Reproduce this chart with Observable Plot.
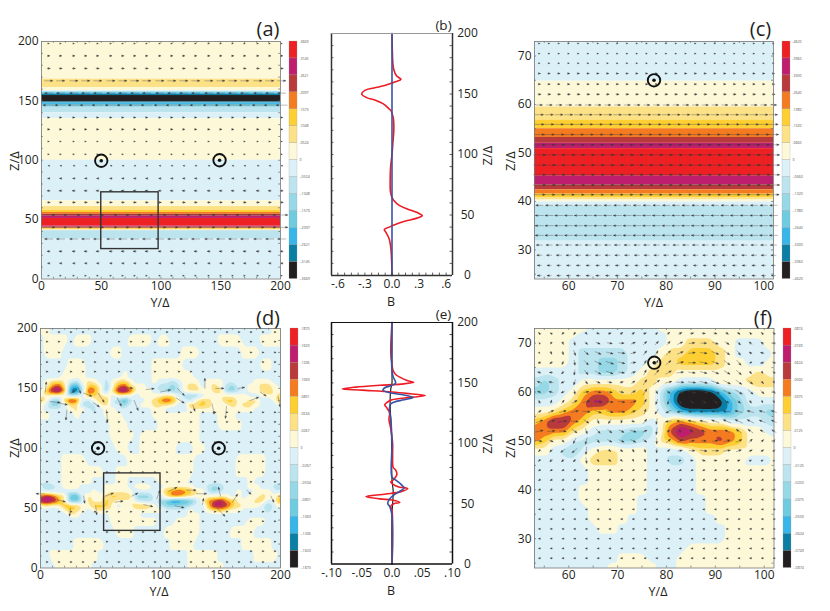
<!DOCTYPE html>
<html><head><meta charset="utf-8">
<style>html,body{margin:0;padding:0;background:#fff}#page{position:relative;width:830px;height:611px;overflow:hidden;font-family:"Open Sans",sans-serif}#page svg{position:absolute;overflow:visible;background:transparent}</style>
<script src="https://cdn.jsdelivr.net/npm/d3@7"></script>
<script src="https://cdn.jsdelivr.net/npm/@observablehq/plot@0.6"></script>
</head><body><div id="page"></div>
<script>
// ---------- colour levels ----------
const levelBreaks=[-6.5,-5.5,-4.5,-3.5,-2.5,-1.5,0,1.5,2.5,3.5,4.5,5.5,6.5];
const palette=["#231f20","#0a7fa3","#38b6ea","#6fcbe0","#97d8e6","#bce4ee","#dcf0f7","#fdf9d8","#fde187","#fdcf33","#f47b20","#b93a3a","#be1e6d","#ed2024"];
const levelIds=[7,6,5,4,3,2,1,-1,-2,-3,-4,-5,-6,-7];
const barTicksA=[".3669",".3145",".2621",".2097",".1573",".1048",".0524","0","-.0524","-.1048","-.1573","-.2097","-.2621","-.3145","-.3669"];
const barTicksC=[".4620",".3960",".3300",".2640",".1980",".1320",".0660","0","-.0660","-.1320","-.1980","-.2640","-.3300","-.3960","-.4620"];
const barTicksD=[".1870",".1603",".1336",".1069",".0801",".0534",".0267","0","-.0267","-.0534","-.0801","-.1069","-.1336","-.1603","-.1870"];
const barTicksF=[".0874",".0749",".0624",".0500",".0375",".0250",".0125","0","-.0125","-.0250","-.0375","-.0500","-.0624","-.0749","-.0874"];

// ---------- panel (a) bands and arrows ----------
const bandTopsA=[200,168.3,161,158.5,157.5,156.5,155.5,154.5,149,148.2,147,145.5,144.5,140,135,100,66,61,58,56,54.5,53,51,44.5,43.7,43,42.3,41.7,41.1,40.7,33.6,0];
const bandLevelsA=[1,2,1,-1,-4,-5,-6,-7,-6,-5,-4,-3,-2,-1,1,-1,1,2,3,4,5,6,7,6,5,4,3,2,1,-2,-1];
const arrowColsA=[6,16,27,37,47,58,68,78,88,99,109,119,129,140,150,160,170,181,191,201];
const arrowRowsA=[2.8,13.2,23.3,33.7,43.5,53.9,64.5,74.3,84.7,95.4,105,115.8,126,136,146.4,156.5,166.9,177.3,187.9,198.3];
const arrowUA=[1,-2,-3,-8,12,12,3,-3,-2,-1,1,1,2,2,-11,-8,8,3,2,1];

// ---------- panel (c) ----------
const bandTopsC=[73,64.8,59.5,56.8,55,53.2,52,50.9,45.2,43.4,42.4,41.5,40.8,40.3,39.9,39.1,31.8,24];
const bandLevelsC=[-1,1,2,3,4,5,6,7,6,5,4,3,2,1,-1,-2,-1];
const arrowColsC=[54,56,58,60,62,64,66,68,70,72,74,76,78,80,82,84,86,88,90,92,94,96,98,100,102];
const arrowRowsC=[72.6,70.5,68.5,66.4,64.2,62.1,59.9,57.9,55.9,53.8,51.7,49.6,47.5,45.5,43.4,41.4,39.2,37.1,35,33,31,28.9,26.8,24.7];
const arrowUC=[1,1,1,2,2,3,6,8,9,10,11,12,12,12,12,11,-7,-8,-8,-8,-6,-5,-4,-4];

// ---------- panel (b) profile ----------
const profileZB=[200,175,170,165,162,160,159,157,155,153,150,147,145,142,139,136,134,130,120,110,100,90,80,70,65,62,58,55,52,49.5,47,45,42,40,38,36,30,20,0];
const profileRedB=[0,.01,.02,.05,.1,.03,0,-.08,-.2,-.3,-.335,-.28,-.19,-.1,-.05,-.01,0,.015,.02,.01,0,-.015,-.02,-.018,-.003,.02,.08,.17,.28,.335,.26,.15,.03,-.03,-.085,-.07,-.03,-.01,0];
const profileBlueB=[0,0];
const profileBlueZB=[0,200];

// ---------- panel (e) profiles ----------
const profileZRedE=[200,175,165,160,157,155,152,150.5,149,148,146.5,145,144,142.5,141,139.5,138,136,134,132,129,125,120,112,100,90,80,78,74,70,68,66,64,62.5,60,58,56,54,53,51,50,48,45,30,15,0];
const profileRedE=[0,-.002,0,.002,.006,.012,.025,.036,.015,-.02,-.06,-.082,-.05,0,.03,.055,.03,0,-.008,-.012,-.008,-.004,-.005,-.002,.001,.001,.002,.006,.008,.003,-.002,.002,.01,.026,.015,-.01,-.043,-.02,0,.013,.003,-.002,0,.001,.001,0];
const profileZBlueE=[200,160,155,150,148,146,144,142,140,138,136,134,132,127,120,100,72,70,66,63,60,58,54,50,48,45,40,0];
const profileBlueE=[0,0,.002,.006,0,-.012,-.015,-.005,.02,.035,.02,.003,-.003,-.004,-.002,0,0,.005,.015,.02,.012,.005,-.004,-.007,-.004,-.002,0,0];
const profileZBlackE=[200,155,150,145,138,130,110,70,60,50,40,0];
const profileBlackE=[0,0,0,-.002,-.003,-.003,-.001,0,.002,.001,0,0];

// ---------- panel (d) field ----------
const fieldColsD=[0,5,10,15,20,25,30,35,40,45,50,55,60,65,70,75,80,85,90,95,100,105,110,115,120,125,130,135,140,145,150,155,160,165,170,175,180,185,190,195,200];
const fieldRowsD=[200,190,180,170,160,156,152,148,144,140,136,132,128,120,110,100,90,80,72,68,64,60,56,52,48,44,40,30,20,10,0];
const fieldD=[
[1,1,-1,-1,-1,-1,-1,-1,-1,-1,-1,-1,-1,-1,-1,-1,-1,-1,-1,-1,-1,-1,-1,-1,-1,-1,-1,-1,-1,-1,-1,-1,-1,-1,-1,-1,-1,-1,-1,1,1],
[-1,1,1,1,1,-1,1,1,1,-1,-1,-1,-1,-1,-1,1,1,1,1,-1,1,1,-1,-1,-1,-1,-1,-1,-1,-1,1,1,1,1,-1,-1,-1,1,1,1,1],
[-1,1,1,1,-1,-1,-1,-1,-1,-1,-1,-1,1,1,-1,-1,-1,-1,-1,-1,-1,-1,-1,-1,1,1,1,-1,-1,-1,-1,-1,-1,-1,1,1,1,-1,-1,-1,-1],
[-1,-1,-1,-1,-1,1,1,1,-1,-1,-1,-1,-1,-1,-1,-1,-1,-1,-1,1,1,1,1,1,-1,-1,-1,-1,-1,-1,-1,-1,-1,-1,-1,-1,-1,1,1,-1,-1],
[-1,-1,-1,-1,1,1,1,1,-1,-1,-1,-1,-1,-1,1,-1,-1,-1,-1,1,1,1,1,1,1,1,-1,-1,-1,-1,-1,-1,-1,-1,-1,-1,-1,-1,-1,-1,-1],
[-1,1,2,2,1,-1,-2,1,2,1,-1,-2,1,2,2,1,-1,-1,-1,1,-1,-1,-2,-1,1,1,1,-1,1,1,1,-1,-1,-1,-1,-1,1,1,1,-1,-1],
[-1,1,4,5,2,-4,-5,-1,3,3,1,-3,1,4,5,2,1,1,-1,-1,-2,-2,-3,-2,1,2,2,-1,1,2,1,-2,-3,-1,-1,1,1,2,2,1,-1],
[-1,3,6,7,4,-6,-7,-2,5,4,1,-3,2,6,7,5,1,1,1,-1,-2,-3,-3,-2,1,2,2,1,1,2,2,-3,-3,-2,-1,1,1,2,3,1,1],
[1,1,1,1,1,-2,-2,-1,3,3,2,1,-1,1,1,1,-1,1,1,1,1,2,2,-1,-2,-3,-3,-1,1,1,1,1,1,1,1,-1,-1,1,1,1,2],
[3,1,-3,-3,3,6,5,-1,-2,1,3,3,-1,-3,-5,-2,-1,-1,1,2,4,5,4,1,-1,-2,1,3,2,1,1,3,3,1,1,2,2,-1,-2,1,3],
[1,-1,-3,-3,-1,2,2,-2,-3,-2,1,2,-1,-1,-3,-1,-1,1,1,2,2,2,1,-1,-1,3,3,3,2,1,1,1,2,1,2,2,1,-1,-1,-1,1],
[1,-1,-1,-1,-1,1,2,1,-1,-2,-1,1,1,-1,-1,-1,-1,-1,-1,1,1,-1,-2,-1,-1,1,1,1,1,1,1,1,1,1,1,1,-1,-1,-1,-1,-1],
[1,1,-1,-1,-1,-1,1,-1,-1,-1,-1,1,1,1,-1,-1,-1,-1,-1,1,1,1,1,1,1,1,1,-1,-1,-1,1,1,1,-1,-1,-1,-1,-1,-1,-1,-1],
[-1,-1,-1,-1,-1,-1,-1,-1,-1,-1,-1,-1,1,1,1,-1,-1,-1,-1,-1,1,1,1,1,1,1,1,-1,-1,-1,1,1,1,1,-1,-1,-1,-1,-1,-1,-1],
[-1,-1,-1,-1,-1,-1,-1,-1,-1,-1,-1,-1,1,1,1,1,-1,1,1,1,1,1,1,1,1,1,1,-1,-1,-1,-1,-1,-1,-1,-1,-1,-1,-1,-1,-1,-1],
[-1,-1,-1,-1,-1,-1,-1,-1,-1,-1,-1,-1,-1,1,1,-1,-1,1,1,1,1,1,1,-1,-1,-1,1,1,-1,-1,-1,-1,-1,-1,-1,-1,-1,-1,-1,-1,-1],
[-1,-1,-1,-1,1,1,1,1,-1,-1,-1,-1,-1,-1,-1,1,1,1,1,1,1,1,1,1,1,1,-1,-1,-1,-1,-1,-1,-1,1,1,1,1,1,-1,-1,-1],
[-1,-1,-1,-1,1,1,1,1,1,1,1,-1,-1,1,1,1,1,1,1,1,1,1,1,1,1,1,-1,-1,-1,-1,-1,-1,-1,1,1,1,1,1,-1,-1,-1],
[-1,-1,-1,-1,1,1,1,1,1,-1,-1,-1,-1,1,1,-1,-1,-1,-1,-1,1,1,1,1,1,-1,-1,-1,-1,-1,-1,-1,-1,-1,-1,1,-1,-1,-1,-1,-1],
[-1,-3,-2,-1,1,1,1,-1,-1,-1,-1,1,1,1,1,-1,1,2,1,-1,-1,1,1,1,1,1,-1,-1,-2,-3,-2,-1,-1,-1,-1,1,1,-1,-1,-2,-3],
[-1,-1,-1,-1,-1,-1,-1,-1,-1,1,-1,1,1,1,1,1,-1,-1,-1,-1,1,3,4,5,4,3,2,1,-2,-3,-2,-1,-1,1,-1,-1,1,1,1,-1,-1],
[4,6,5,3,2,-4,-5,-1,2,1,1,2,3,3,3,2,-3,-3,-3,-1,-1,2,4,4,3,2,1,1,1,1,1,1,-1,1,-1,1,1,2,1,1,3],
[6,7,6,4,1,-4,-4,-1,2,1,1,3,2,1,1,1,-1,-2,-2,-1,-3,-4,-6,-6,-5,-4,-2,1,4,5,6,4,3,1,1,1,2,2,-1,1,4],
[1,2,1,1,3,3,3,1,1,3,3,3,1,-1,1,1,3,3,2,1,-2,-3,-3,-3,-3,-2,-1,-1,3,6,6,5,3,2,1,1,1,-1,-3,-1,1],
[-1,-1,-2,-1,1,3,2,1,-1,1,2,1,1,1,1,1,1,1,1,1,1,-1,-1,-1,-1,1,-1,-1,1,2,3,2,1,1,-1,-1,-1,-1,-2,-1,-1],
[-1,-1,-1,-1,-1,1,1,-1,-1,-1,-1,-1,1,1,1,1,1,-1,-1,-1,-1,-1,-1,-1,-1,1,1,-1,-1,-1,-1,-1,-1,-1,-1,-1,-1,-1,-1,-1,-1],
[-1,-1,-1,-1,-1,-1,-1,-1,-1,-1,-1,-1,1,1,1,1,1,1,1,1,-1,-1,-1,1,1,1,1,-1,-1,-1,-1,-1,-1,-1,-1,1,1,1,-1,-1,-1],
[-1,-1,-1,-1,-1,-1,-1,-1,-1,-1,-1,-1,-1,1,1,1,-1,-1,-1,-1,-1,1,1,1,1,1,1,-1,-1,-1,-1,-1,1,1,1,1,-1,-1,-1,-1,-1],
[-1,-1,-1,-1,-1,-1,1,1,1,1,1,-1,-1,-1,-1,-1,-1,-1,-1,-1,-1,-1,1,1,1,1,-1,-1,-1,-1,-1,-1,-1,-1,1,1,1,1,1,-1,-1],
[-1,-1,1,1,1,1,1,1,1,1,-1,-1,-1,-1,-1,-1,-1,-1,-1,-1,-1,-1,-1,-1,-1,1,1,1,1,1,-1,-1,-1,-1,-1,-1,1,1,1,1,-1],
[-1,-1,-1,1,1,1,1,1,1,-1,-1,-1,-1,-1,-1,-1,-1,-1,-1,-1,-1,-1,-1,-1,-1,1,1,1,1,1,1,-1,-1,-1,-1,-1,-1,-1,-1,-1,-1]
];
// arrows of (d): Y, Z, u, v
const tinyColsD=[5,15,25,35,45,55,65,75,85,95,105,115,125,135,145,155,165,175,185,195];
const tinyRowsD=[5,14,22,30,39,47,72,80,89,97,105,114,122,130,164,172,180,189,197];
const arrowsD=[[4,147,1,10],[8,139,10,-1],[14,138,10,-2],[22,132,-1,-10],[25,146,4,2],[31,151,3,-6],[36,146,8,-3],[44,138,6,-4],[48,146,6,-9],[55,132,1,-12],[64,142,4,-8],[70,151,8,-1],[78,140,4,-10],[88,149,8,1],[100,147,10,2],[113,142,8,-5],[114,150,7,-7],[127,136,2,-6],[137,150,0,10],[143,137,2,-10],[146,150,8,0],[155,135,-1,-12],[165,150,6,1],[175,140,8,3],[183,147,6,-4],[198,143,2,-10],[3,62,-8,0],[14,57,8,-2],[25,50,-1,-8],[36,60,1,-7],[46,52,1,-9],[54,60,8,3],[62,55,8,1],[76,60,6,3],[86,53,9,-2],[97,58,3,8],[107,64,8,4],[112,52,9,-2],[122,65,9,0],[130,62,10,0],[135,53,1,6],[147,50,8,-8],[150,60,-2,9],[160,55,5,8],[172,65,4,-4],[192,60,3,-6]];

// ---------- panel (f) field ----------
const fieldColsF=[53,55,57,59,61,63,65,67,69,71,73,75,77,79,81,83,85,87,89,91,93,95,97,99,101,102];
const fieldRowsF=[73,72,70,68,66,64,62,60,58,56,54,52,50,48,46,44,42,40,38,36,34,32,30,28,26,24];
const fieldF=[
[1,1,1,1,1,1,-1,-1,-1,-1,-1,-1,-1,1,1,1,1,1,1,1,1,1,1,1,1,1],
[1,1,1,1,1,-1,-1,-1,-1,-1,-1,-1,-1,-1,1,1,1,1,1,1,1,1,1,1,1,1],
[1,1,1,1,-1,-1,-1,-1,-1,-1,-1,-1,-1,-1,1,1,2,2,2,1,1,-1,-1,-1,1,1],
[1,1,1,1,-1,-2,-2,-2,-2,-2,-1,-1,-1,1,2,2,3,3,3,2,1,-1,-1,-1,-1,1],
[1,1,1,1,-1,-2,-2,-3,-3,-2,-1,-1,1,2,2,3,3,3,3,2,1,1,-1,-1,1,1],
[-1,-1,-1,-1,-1,-2,-2,-3,-3,-2,-1,1,2,2,2,1,1,1,1,1,1,1,1,2,1,1],
[-2,-3,-2,-1,-1,1,1,1,1,1,1,2,2,1,1,-1,-1,-1,-1,1,1,1,2,2,2,2],
[-3,-3,-2,-1,1,3,4,4,3,2,2,3,1,-2,-5,-7,-8,-8,-7,-5,-3,-2,-1,1,1,1],
[-1,-1,-1,1,2,4,6,6,4,4,4,3,1,-2,-5,-8,-8,-8,-8,-7,-5,-3,-1,-1,-1,-1],
[1,1,2,3,4,4,3,3,4,4,3,2,1,-1,-3,-5,-6,-6,-6,-6,-5,-3,-2,-2,-3,-3],
[3,4,6,6,4,3,1,1,1,1,1,1,-1,1,3,4,3,2,1,1,-1,-1,-1,-1,-2,-2],
[4,4,4,4,2,1,-1,-2,-2,-2,-3,-3,-2,1,5,7,6,5,4,4,4,3,1,1,-1,-1],
[4,3,1,1,-1,-2,-2,-2,-2,-3,-3,-2,-1,2,3,5,4,4,4,5,4,3,1,1,1,1],
[1,1,-1,-2,-3,-1,1,2,2,1,1,1,-1,-1,-1,-1,1,2,2,2,1,1,1,1,1,1],
[-1,-1,-1,-1,-1,1,2,2,2,1,1,1,-1,-1,-2,-2,-1,1,1,1,1,1,-1,-1,-1,1],
[-1,-1,-1,-1,-1,-1,1,1,1,1,1,1,-1,-1,-1,-1,-1,1,1,1,1,1,1,1,1,1],
[-1,-1,-1,-1,-1,-1,1,1,1,1,1,1,-1,-1,-1,-1,-1,1,1,1,1,1,1,1,1,1],
[-1,-1,-1,-1,-1,1,1,1,1,1,1,1,-1,-1,-1,-1,-1,1,1,1,1,1,1,1,1,1],
[-1,-1,-1,-1,-1,1,1,1,1,1,1,-1,-1,-1,-1,-1,-1,-1,1,1,1,1,1,1,1,1],
[-1,-1,-1,-1,-1,-1,1,1,1,1,1,-1,-1,-1,-1,-1,-1,-1,1,1,1,1,1,1,1,1],
[-1,-1,-1,-1,-1,-1,1,1,1,1,-1,-1,-1,-1,-1,-1,-1,-1,-1,1,1,1,1,1,1,1],
[-1,-1,-1,-1,-1,-1,-1,1,1,-1,-1,-1,-1,-1,-1,-1,-1,-1,-1,-1,1,1,1,1,1,1],
[-1,-1,-1,-1,-1,-1,-1,-1,-1,-1,-1,-1,-1,-1,-1,-1,-1,-1,-1,-1,1,1,1,1,1,1],
[-1,-1,-1,-1,-1,-1,-1,-1,-1,-1,-1,-1,-1,-1,-1,-1,1,1,1,1,1,1,1,1,1,1],
[-1,-1,-1,-1,-1,-1,-1,-1,-1,1,1,1,-1,-1,-1,1,1,1,1,1,1,1,1,1,1,1],
[-1,-1,-1,-1,-1,-1,-1,-1,1,1,1,1,1,-1,-1,1,1,1,1,1,1,1,1,1,1,1]
];
const arrowColsF=[54,56.4,58.8,61.2,63.6,66,68.4,70.8,73.2,75.6,78,80.4,82.8,85.2,87.6,90,92.4,94.8,97.2,99.6,102];
const arrowRowsF=[72,70,68,66,64,62,60,58,56,54,52,50,48,46];
const arrowUF=[
[-2,-2,-2,-2,2,3,3,3,3,3,2,3,4,4,4,4,3,3,-2,-2,-2],
[-1,-1,1,1,3,5,6,6,5,4,4,4,6,7,7,7,5,4,-3,-3,-2],
[1,1,1,2,5,7,8,8,6,4,3,5,7,8,8,8,6,4,-3,-4,-3],
[-3,-3,-2,1,5,8,9,8,6,3,3,6,8,9,9,8,7,5,-2,-4,-3],
[-4,-4,-3,-1,4,7,8,7,5,3,5,7,8,8,8,8,7,6,2,1,-2],
[-5,-5,-4,-2,3,5,5,4,4,4,7,8,9,9,9,9,8,7,5,3,1],
[-4,-5,-4,1,6,7,6,5,5,4,2,4,7,9,10,10,9,8,6,4,3],
[-1,1,3,6,8,9,8,8,7,3,-2,-2,2,4,5,5,4,4,2,1,1],
[4,6,8,9,9,8,8,8,5,2,-4,-6,-7,-8,-9,-9,-9,-9,-8,-7,-6],
[8,9,9,9,6,2,-3,-1,3,4,-1,-7,-8,-9,-9,-9,-9,-9,-8,-7,-6],
[9,9,8,6,2,5,5,6,7,5,-1,3,-2,-4,-5,-5,-5,-6,-6,-5,-5],
[6,5,3,-3,-2,3,5,6,6,4,0,5,6,6,6,6,7,7,4,3,2],
[-2,-3,-5,-6,-1,1,2,3,2,1,0,3,5,7,8,8,8,6,4,3,2],
[-2,-3,-3,-3,1,2,3,2,1,1,-1,1,2,3,4,4,3,3,2,2,1]];
const arrowVF=[
[2,1,-2,-3,-2,-1,1,2,2,1,2,3,2,1,0,-1,-2,-2,2,2,2],
[1,-2,-3,-5,-3,-2,-1,0,2,4,4,4,3,1,0,-2,-3,-4,3,2,1],
[-1,-3,-4,-6,-4,-3,-2,-1,2,5,5,5,3,1,-1,-3,-4,-5,2,1,0],
[-1,-2,-4,-6,-5,-4,-3,-2,1,5,6,5,2,0,-2,-3,-5,-6,-1,-1,1],
[1,0,-3,-6,-5,-4,-3,-1,2,6,6,4,1,-1,-2,-3,-4,-5,-3,-2,2],
[2,1,-2,-6,-4,-2,-1,1,3,6,5,2,0,-1,-2,-3,-4,-5,-4,-3,-2],
[2,1,-2,-5,1,-1,-1,-1,3,7,-4,-3,-3,-2,-2,-3,-4,-5,-5,-4,-3],
[3,4,4,3,2,-1,-1,-1,2,6,-6,-6,-5,-3,-3,-3,-3,-3,-3,-2,-2],
[3,3,2,2,-1,-3,-2,-1,2,6,-6,-3,-1,0,0,1,1,2,2,2,2],
[3,2,1,-1,-4,-5,-5,-4,-1,5,-7,-1,1,2,2,3,4,4,4,3,3],
[2,1,-1,-4,-6,-5,-4,-3,-2,2,-8,2,3,3,2,2,3,4,4,3,3],
[-1,-2,-3,-6,-8,-4,-3,-3,-3,-3,-7,4,3,1,0,1,2,3,4,3,3],
[-2,-3,-4,-5,-9,-3,-2,-2,-3,-4,-5,3,1,0,-1,0,1,2,2,2,2],
[-2,-3,-3,-3,-7,-3,-2,-2,-2,-3,-3,1,1,0,-1,0,1,1,1,1,1]];
const lowRowsF=[44,42,40,38,36,34,32,30,28,26];
const lowUF=[-2,-2,-2,-2,-2,-2,-2,-2,-2,-2];
const lowVF=[-1,-1,-1,0,0,0,0,0,0,0];

// markers
const circlesA=[[50,99.6],[149,100]], circlesC=[[77.5,65]], circlesD=[[48,100],[148.5,100]], circlesF=[[77.5,66]];
const boxA=[50,98,25.2,73], boxD=[53,100,31,79];
const axisTicks200=[0,50,100,150,200];
const minor200=[10,20,30,40,50,60,70,80,90,100,110,120,130,140,150,160,170,180,190];
const ticksZoomY=[60,70,80,90,100], ticksZoomZ=[30,40,50,60,70];
const minorZoomY=[55,60,65,70,75,80,85,90,95,100], minorZoomZ=[25,30,35,40,45,50,55,60,65,70];
const bTicks=[-.6,-.3,0,.3,.6], bTickText=["-.6","-.3","0.0",".3",".6"];
const eTicks=[-.1,-.05,0,.05,.1], eTickText=["-.10","-.05","0.0",".05",".10"];

// ---------- helpers ----------
const page=document.getElementById("page");
const ML=45,MR=20,MT=35,MB=35;
const colorScale={type:"threshold",domain:levelBreaks,range:palette};
function place(svg,x,y){svg.style.left=x+"px";svg.style.top=y+"px";page.appendChild(svg);}
function panel(fx,fy,fw,fh,xd,yd,marks){
  const svg=Plot.plot({width:fw+ML+MR,height:fh+MT+MB,marginLeft:ML,marginRight:MR,marginTop:MT,marginBottom:MB,
    x:{domain:xd,axis:null},y:{domain:yd,axis:null},color:colorScale,length:{type:"identity"},
    style:{fontFamily:'"Open Sans",sans-serif',background:"transparent",overflow:"visible"},marks});
  place(svg,fx-ML,fy-MT);
}
function lbl(t,fx,fy,px,py,size,rot){return Plot.text([t],{text:d=>d,frameAnchor:"top-left",dx:px-fx,dy:py-fy,fontSize:size,textAnchor:"middle",lineAnchor:"middle",rotate:rot||0,fill:"#231f20"});}
const headShape={draw(c,l){c.moveTo(0,0);c.lineTo(0,-l);const h=Math.min(1.9,l*.6+.5),w=Math.min(.8,h*.45);c.moveTo(-w,-l+h);c.lineTo(0,-l);c.lineTo(w,-l+h);c.closePath();}};
function arrows(list,k=1,anchor="middle"){return Plot.vector(list,{x:d=>d[0],y:d=>d[1],length:d=>Math.hypot(d[2],d[3])*k,rotate:d=>Math.atan2(d[2],d[3])*180/Math.PI,anchor,shape:headShape,stroke:"#3a3a3a",fill:"#3a3a3a",strokeWidth:.35});}
function rowArrows(cols,rows,us,vs){const out=[];rows.forEach((z,j)=>cols.forEach(y=>out.push([y,z,us[j],vs?vs[j]:0])));return out;}
function bands(tops,levels,xd){return Plot.rect(levels.map((v,i)=>({v,z1:tops[i+1],z2:tops[i]})),{x1:xd[0],x2:xd[1],y1:"z1",y2:"z2",fill:"v"});}
function field(cols,rows,vals,blur){const pts=[];rows.forEach((z,j)=>vals[j].forEach((v,i)=>pts.push({y:cols[i],z,v})));
  return Plot.contour(pts,{x:"y",y:"z",fill:"v",thresholds:[-99,...levelBreaks],interpolate:"barycentric",pixelSize:1,blur});}
function circles(list){return [Plot.dot(list,{x:d=>d[0],y:d=>d[1],r:6.2,stroke:"#111",strokeWidth:1.9,fill:"none"}),Plot.dot(list,{x:d=>d[0],y:d=>d[1],r:1.8,fill:"#111"})];}
function box(b){return Plot.rect([b],{x1:d=>d[0],x2:d=>d[1],y1:d=>d[2],y2:d=>d[3],fill:"none",stroke:"#333",strokeWidth:1.4});}
function inward(xs,zs,xd,zd,lx,lz,col){return [
  Plot.ruleX(xs,{x:d=>d,y1:zd[0],y2:zd[0]+lz,stroke:col,strokeWidth:.7}),Plot.ruleX(xs,{x:d=>d,y1:zd[1],y2:zd[1]-lz,stroke:col,strokeWidth:.7}),
  Plot.ruleY(zs,{y:d=>d,x1:xd[0],x2:xd[0]+lx,stroke:col,strokeWidth:.7}),Plot.ruleY(zs,{y:d=>d,x1:xd[1],x2:xd[1]-lx,stroke:col,strokeWidth:.7})];}
function frameAxes(xt,zt){return [Plot.frame({stroke:"#777",strokeWidth:.8}),
  Plot.axisX(xt,{anchor:"bottom",tickSize:0,tickPadding:2,fontSize:12,label:null,fill:"#231f20"}),
  Plot.axisY(zt,{anchor:"left",tickSize:0,tickPadding:3,fontSize:12,label:null,fill:"#231f20"})];}
function colorbar(x,y,h,labels){
  const rows=levelIds.map(id=>({id,a:id>0?id-1:id,b:id>0?id:id+1}));
  const svg=Plot.plot({width:8+24,height:h,marginLeft:0,marginRight:24,marginTop:0,marginBottom:0,
    x:{domain:[0,1],axis:null},y:{domain:[-7,7],axis:null},color:colorScale,style:{background:"transparent",overflow:"visible",fontFamily:'"Open Sans",sans-serif'},
    marks:[Plot.rect(rows,{x1:0,x2:1,y1:"a",y2:"b",fill:"id",stroke:"#999",strokeWidth:.25}),
      Plot.text(labels,{text:d=>d,y:(d,i)=>7-i,x:1,dx:2,textAnchor:"start",fontSize:3.6,fill:"#555"})]});
  place(svg,x,y);
}
function profilePanel(fx,fy,fw,fh,xd,ticks,tickText,minorX,lines,boxStroke,letter,lx,ly,zlY,bY,tickDy){
  panel(fx,fy,fw,fh,xd,[0,200],[
    ...lines,
    Plot.ruleX(xd,{x:d=>d,stroke:boxStroke,strokeWidth:1.5}),
    Plot.ruleY([0],{stroke:boxStroke,strokeWidth:1.5}),
    Plot.ruleY([200],{stroke:letter==="(b)"?"#999":boxStroke,strokeWidth:1.2}),
    Plot.ruleX(minorX,{x:d=>d,y1:0,y2:2,stroke:boxStroke,strokeWidth:.8}),
    Plot.ruleY(minor200,{y:d=>d,x1:xd[0],x2:xd[0]+(xd[1]-xd[0])*.02,stroke:boxStroke,strokeWidth:.8}),
    Plot.ruleY(minor200,{y:d=>d,x1:xd[1],x2:xd[1]-(xd[1]-xd[0])*.02,stroke:boxStroke,strokeWidth:.8}),
    Plot.text(axisTicks200,{y:d=>d,text:d=>String(d),frameAnchor:"right",dx:15,textAnchor:"middle",fontSize:12,fill:"#231f20"}),
    Plot.text(ticks,{x:d=>d,text:(d,i)=>tickText[i],frameAnchor:"bottom",dy:tickDy,fontSize:12,fill:"#231f20",lineAnchor:"middle"}),
    lbl(letter,fx,fy,lx,ly,13.5),
    lbl("Z/Δ",fx,fy,487,zlY,13,-90),
    lbl("B",fx,fy,390.5,bY,12.5)
  ]);
}
function curve(zs,vs){return zs.map((z,i)=>({z,b:vs[i]}));}
function line(d,stroke,w){return Plot.line(d,{x:"b",y:"z",stroke,strokeWidth:w,curve:"catmull-rom"});}

// ---------- panels ----------
const dA=[0,200];
panel(40.5,40.5,239,237.5,dA,dA,[bands(bandTopsA,bandLevelsA,dA),arrows(rowArrows(arrowColsA,arrowRowsA,arrowUA)),...circles(circlesA),box(boxA),
  ...inward(minor200,minor200,dA,dA,1.5,1.5,"#666"),...frameAxes(axisTicks200,axisTicks200),
  lbl("(a)",40.5,40.5,267,29,20),lbl("Y/Δ",40.5,40.5,159,302,12.5),lbl("Z/Δ",40.5,40.5,14,160,13,-90)]);
colorbar(288.5,40.5,237.5,barTicksA);

profilePanel(331,33,121,242,[-.67,.67],bTicks,bTickText,[-.6,-.525,-.45,-.375,-.3,-.225,-.15,-.075,0,.075,.15,.225,.3,.375,.45,.525,.6],
  [line(curve(profileZB,profileRedB),"#ed1c24",1.6),line(curve(profileBlueZB,profileBlueB),"#3953a4",1.6)],"#333","(b)",443,25,155,301,9);

const dCY=[53,102],dCZ=[24,73];
panel(534,40.5,239,237.5,dCY,dCZ,[bands(bandTopsC,bandLevelsC,dCY),arrows(rowArrows(arrowColsC,arrowRowsC,arrowUC)),...circles(circlesC),
  ...inward(minorZoomY,minorZoomZ,dCY,dCZ,.4,.4,"#666"),...frameAxes(ticksZoomY,ticksZoomZ),
  lbl("(c)",534,40.5,760,29,20),lbl("Y/Δ",534,40.5,653,302,12.5),lbl("Z/Δ",534,40.5,510,160,13,-90)]);
colorbar(782,40.5,237.5,barTicksC);

panel(39.5,328.3,240,239.5,dA,dA,[field(fieldColsD,fieldRowsD,fieldD,1),arrows([...rowArrows(tinyColsD,tinyRowsD,tinyRowsD.map(()=>1.5)),...arrowsD],1,"start"),...circles(circlesD),box(boxD),
  ...inward(minor200,minor200,dA,dA,1.5,1.5,"#666"),...frameAxes(axisTicks200,axisTicks200),
  lbl("(d)",39.5,328.3,267,318,20),lbl("Y/Δ",39.5,328.3,158,592,12.5),lbl("Z/Δ",39.5,328.3,14,448,13,-90)]);
colorbar(289.5,328.3,239.5,barTicksD);

profilePanel(331,321.7,121,241.6,[-.1,.1],eTicks,eTickText,[],
  [line(curve(profileZBlackE,profileBlackE),"#222",1.2),line(curve(profileZRedE,profileRedE),"#ed1c24",1.6),line(curve(profileZBlueE,profileBlueE),"#3953a4",1.6)],"#111","(e)",443,314,443,590,9);

panel(533.5,328.3,239.5,239.5,dCY,dCZ,[field(fieldColsF,fieldRowsF,fieldF,1.5),
  arrows([...arrowRowsF.flatMap((z,j)=>arrowColsF.map((y,i)=>[y,z,arrowUF[j][i],arrowVF[j][i]])),...rowArrows(arrowColsF,lowRowsF,lowUF,lowVF)],.8),...circles(circlesF),
  ...inward(minorZoomY,minorZoomZ,dCY,dCZ,.4,.4,"#666"),...frameAxes(ticksZoomY,ticksZoomZ),
  lbl("(f)",533.5,328.3,762,318,20),lbl("Y/Δ",533.5,328.3,657,592,12.5),lbl("Z/Δ",533.5,328.3,510,448,13,-90)]);
colorbar(782.5,328.3,239.5,barTicksF);
</script></body></html>
